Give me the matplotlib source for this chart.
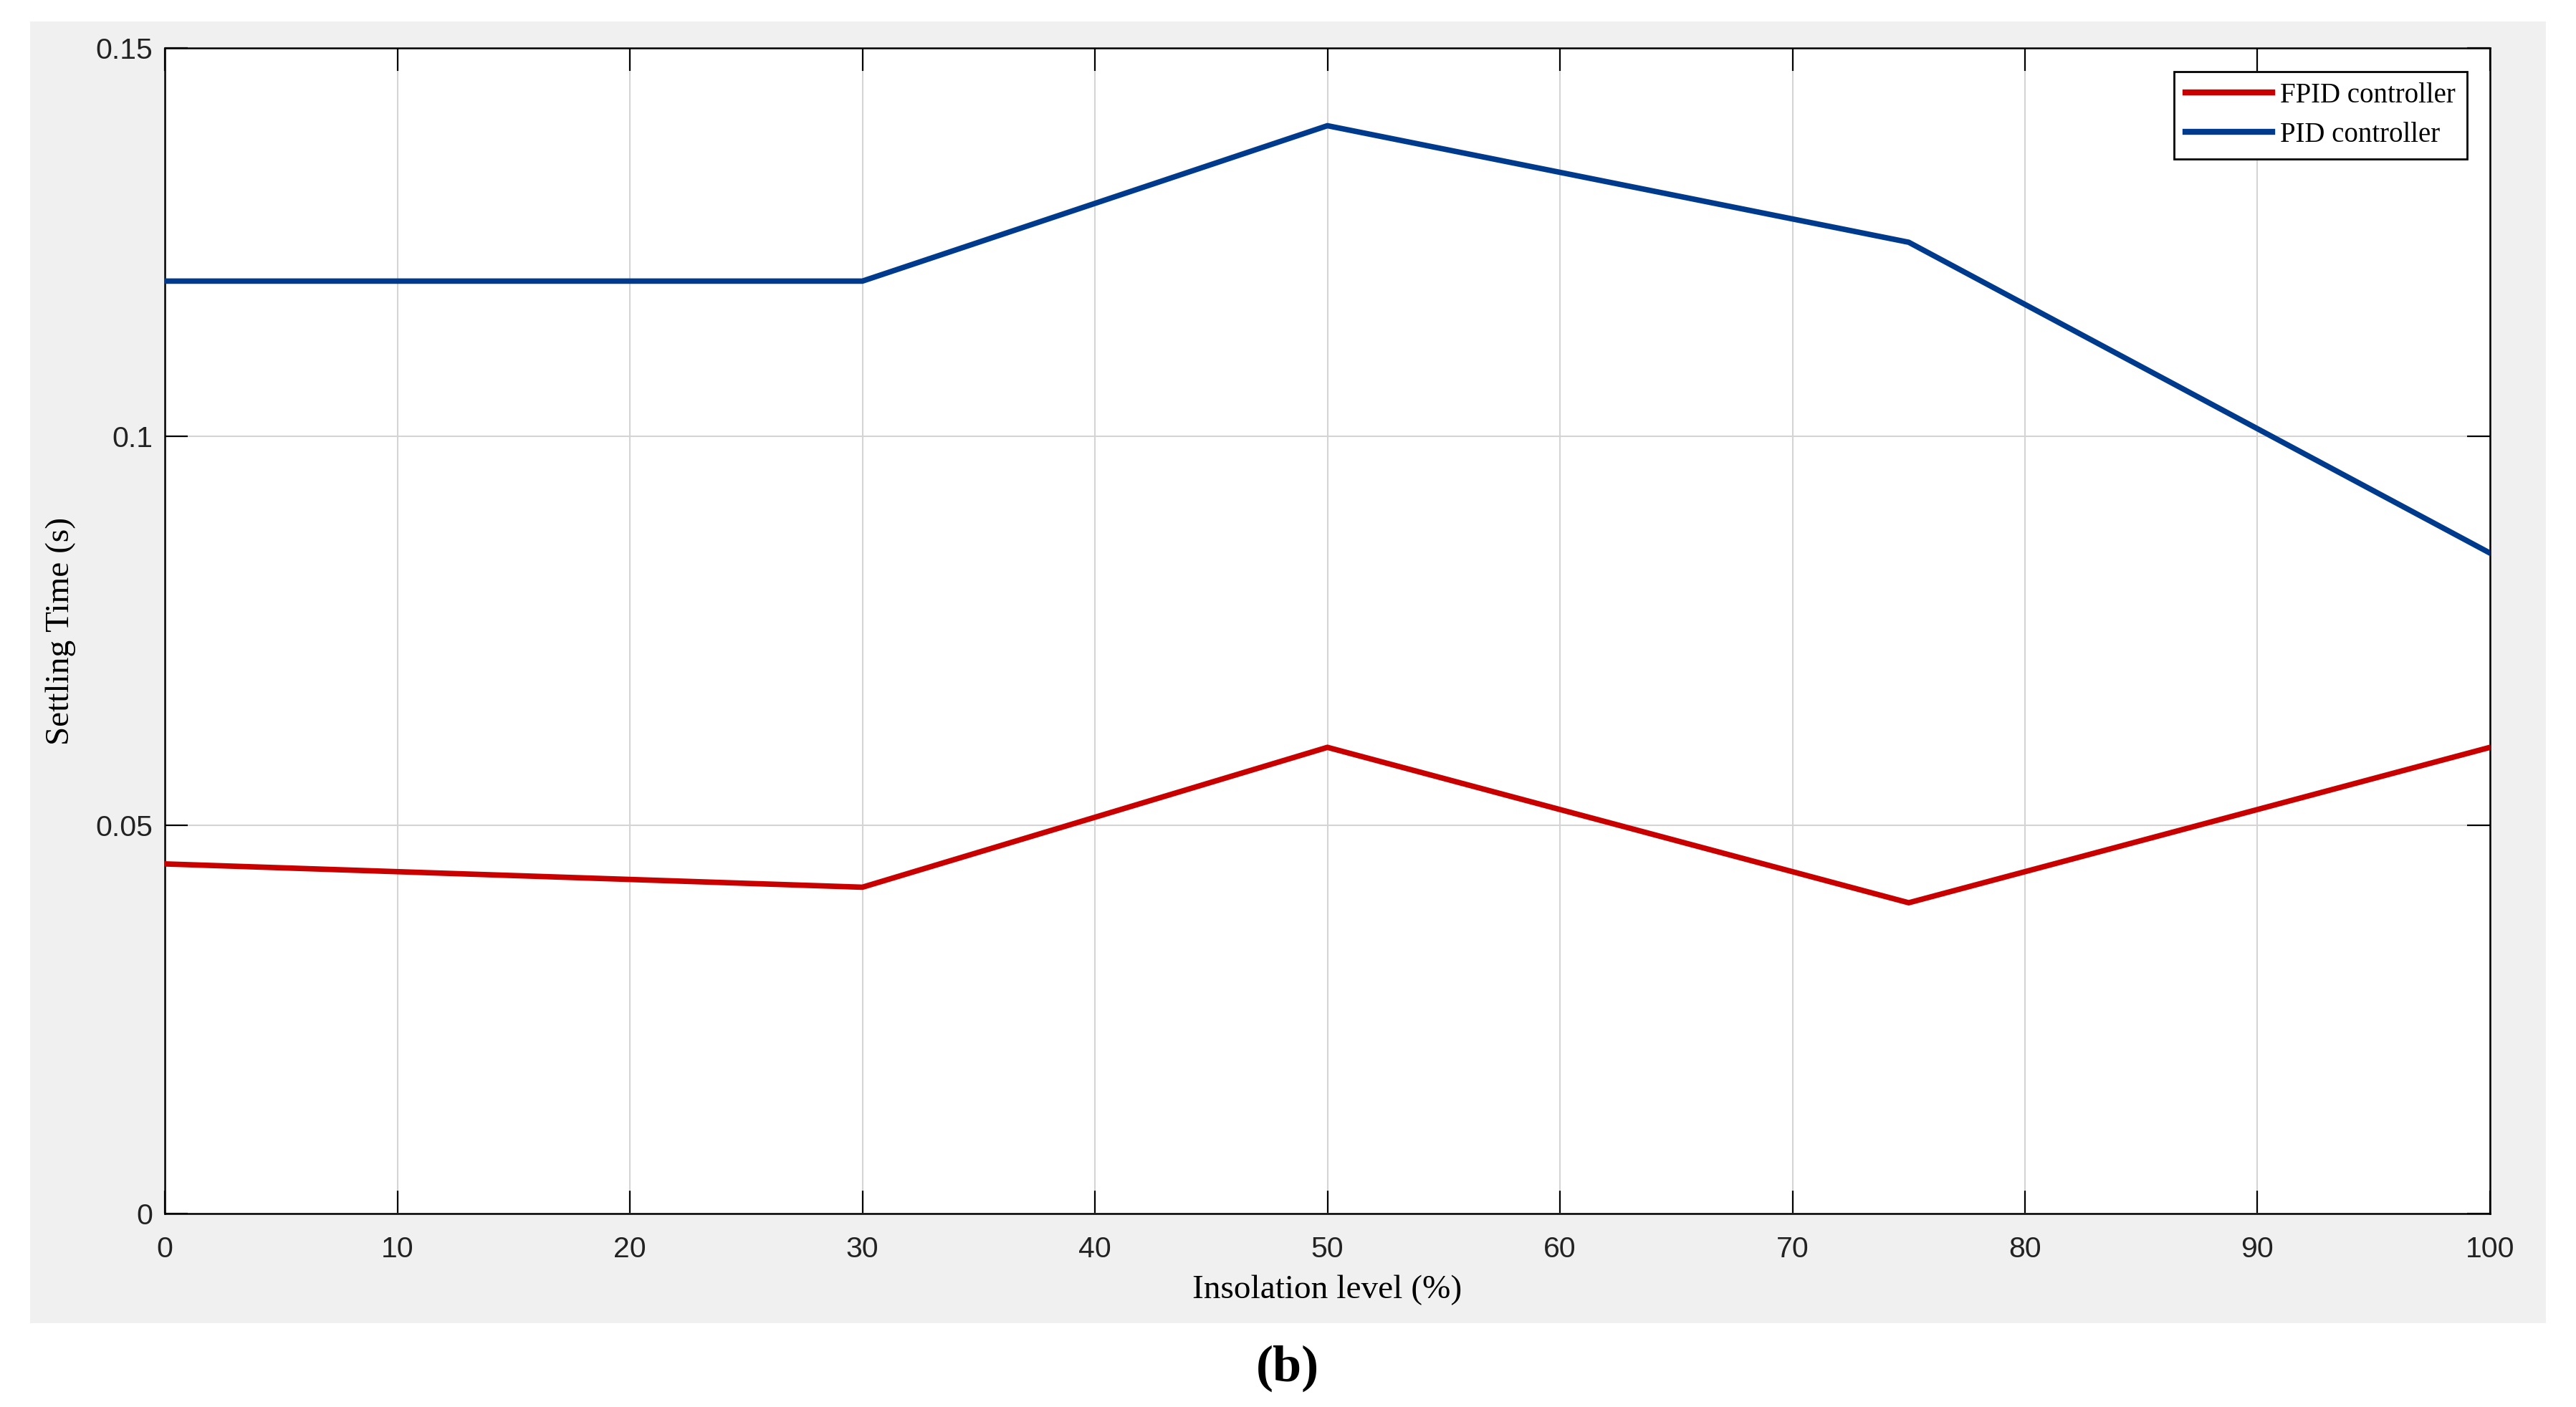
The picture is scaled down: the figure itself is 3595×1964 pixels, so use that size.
import matplotlib.pyplot as plt
from matplotlib.patches import Rectangle

# insolation level (%) and settling time (s)
insolation = [0, 30, 50, 75, 100]
fpid_time = [0.045, 0.042, 0.060, 0.040, 0.060]
pid_time = [0.120, 0.120, 0.140, 0.125, 0.085]

x_ticks = [0, 10, 20, 30, 40, 50, 60, 70, 80, 90, 100]
y_ticks = [0, 0.05, 0.1, 0.15]
y_tick_labels = ['0', '0.05', '0.1', '0.15']

fig = plt.figure(figsize=(35.95, 19.64), dpi=100)
fig.patch.set_facecolor('white')

# grey matlab-style panel behind the axes
fig.patches.append(Rectangle((0.01168, 0.05957), 0.97663, 0.92515,
                             transform=fig.transFigure, facecolor='#f0f0f0',
                             edgecolor='none', zorder=-5))

ax = fig.add_axes([0.06398, 0.13747, 0.90264, 0.82842])
ax.set_zorder(1)
ax.set_facecolor('white')

ax.plot(insolation, fpid_time, color='#c80000', lw=5.5, label='FPID controller', zorder=3)
ax.plot(insolation, pid_time, color='#003a8c', lw=5.5, label='PID controller', zorder=3)

ax.set_xlim(0, 100)
ax.set_ylim(0, 0.15)
ax.set_xticks(x_ticks)
ax.set_yticks(y_ticks)
ax.set_yticklabels(y_tick_labels)

ax.grid(True, color='#d4d4d4', lw=1.5)
ax.set_axisbelow(True)
for s in ax.spines.values():
    s.set_linewidth(1.8)
    s.set_color('black')

ax.tick_params(direction='in', length=23, width=1.6, top=True, right=True,
               labelsize=29.5, colors='black')
ax.tick_params(axis='x', pad=22)
ax.tick_params(axis='y', pad=12)
for lab in ax.get_xticklabels() + ax.get_yticklabels():
    lab.set_fontfamily('Liberation Sans')
    lab.set_color('#222222')

ax.set_xlabel('Insolation level (%)', fontfamily='Liberation Serif', fontsize=34, labelpad=12)
ax.set_ylabel('Settling Time (s)', fontfamily='Liberation Serif', fontsize=34, labelpad=20)

leg = ax.legend(loc='upper right', bbox_to_anchor=(0.99, 0.98),
                prop={'family': 'Liberation Serif', 'size': 28},
                frameon=True, fancybox=False, framealpha=1, edgecolor='black',
                handlelength=3.1, handletextpad=0.3, labelspacing=0.45,
                borderpad=0.4, borderaxespad=0)
leg.get_frame().set_linewidth(2)
for line in leg.get_lines():
    line.set_linewidth(6)

fig.text(0.4999, 0.0275, '(b)', fontfamily='Liberation Serif', fontsize=52,
         fontweight='bold', ha='center', va='center')

fig.savefig('out.png', dpi=100, facecolor=fig.get_facecolor())
